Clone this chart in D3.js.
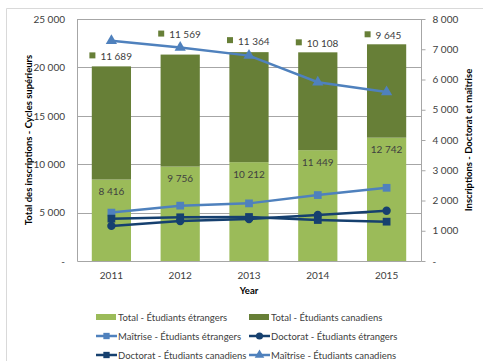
<!DOCTYPE html>
<html>
<head>
<meta charset="utf-8">
<script src="https://cdn.jsdelivr.net/npm/d3@7"></script>
<style>
  html, body { margin: 0; padding: 0; background: #fff; }
  svg text { font-family: Lato, "Liberation Sans", sans-serif; fill: #404040; }
</style>
</head>
<body>
<svg id="chart" width="483" height="361"></svg>
<script>
// Enrolment by year
const years = ["2011", "2012", "2013", "2014", "2015"];
const totalForeign = [8416, 9756, 10212, 11449, 12742];
const totalCanadian = [11689, 11569, 11364, 10108, 9645];
const masterForeign = [1600, 1830, 1905, 2180, 2420];
const phdForeign = [1160, 1320, 1390, 1520, 1660];
const phdCanadian = [1400, 1445, 1455, 1355, 1300];
const masterCanadian = [7280, 7060, 6790, 5910, 5590];
const leftTicks = [0, 5000, 10000, 15000, 20000, 25000];
const rightTicks = [0, 1000, 2000, 3000, 4000, 5000, 6000, 7000, 8000];

const svg = d3.select("#chart");
const m = { left: 77, right: 421, top: 19, bottom: 261 };

const lightGreen = "#9BBB59", darkGreen = "#677F37";
const blue = "#4F81BD", navy = "#16406F";

const fmt = v => v === 0 ? "-" : d3.format(",")(v).replace(/,/g, " ");

// outer frame
svg.append("path").attr("d", "M6.5,361 V8.5 H483")
  .attr("fill", "none").attr("stroke", "#D9D9D9");

const x = d3.scaleBand().domain(years).range([m.left, m.right]).paddingInner(0.43).paddingOuter(0.215);
const yL = d3.scaleLinear().domain([0, 25000]).range([m.bottom, m.top]);
const yR = d3.scaleLinear().domain([0, 8000]).range([m.bottom, m.top]);

// gridlines
svg.append("g").selectAll("line").data(leftTicks.slice(1)).join("line")
  .attr("x1", m.left).attr("x2", m.right)
  .attr("y1", d => Math.round(yL(d)) + 0.5).attr("y2", d => Math.round(yL(d)) + 0.5)
  .attr("stroke", "#A6A6A6").attr("stroke-width", 1);

// stacked bars
const stack = years.map((y, i) => ({ year: y, f: totalForeign[i], c: totalCanadian[i] }));
svg.append("g").selectAll("rect").data(stack).join("rect")
  .attr("x", d => x(d.year)).attr("width", x.bandwidth())
  .attr("y", d => yL(d.f)).attr("height", d => yL(0) - yL(d.f))
  .attr("fill", lightGreen);
svg.append("g").selectAll("rect").data(stack).join("rect")
  .attr("x", d => x(d.year)).attr("width", x.bandwidth())
  .attr("y", d => yL(d.f + d.c)).attr("height", d => yL(d.f) - yL(d.f + d.c))
  .attr("fill", darkGreen);

// plot frame
svg.append("path").attr("d", `M${m.left + 0.5},${m.top} V${m.bottom + 0.5} H${m.right + 0.5} V${m.top}`)
  .attr("fill", "none").attr("stroke", "#A6A6A6");
svg.append("line").attr("x1", m.left).attr("x2", m.right).attr("y1", m.top + 0.5).attr("y2", m.top + 0.5)
  .attr("stroke", "#A6A6A6");

// left axis
const gL = svg.append("g").attr("transform", `translate(${m.left},0)`)
  .call(d3.axisLeft(yL).tickValues(leftTicks).tickFormat(fmt).tickSize(0).tickPadding(12));
gL.select(".domain").remove();
gL.selectAll("text").style("font-size", "10px").attr("fill", "#404040");

// right axis
const gR = svg.append("g").attr("transform", `translate(${m.right + 0.5},0)`)
  .call(d3.axisRight(yR).tickValues(rightTicks).tickFormat(fmt).tickSize(4).tickPadding(7));
gR.select(".domain").remove();
gR.selectAll("line").attr("stroke", "#A6A6A6");
gR.selectAll("text").style("font-size", "10px").attr("fill", "#404040");

// x axis labels
svg.append("g").selectAll("text").data(years).join("text")
  .attr("x", d => x(d) + x.bandwidth() / 2).attr("y", 279)
  .attr("text-anchor", "middle").style("font-size", "10px").text(d => d);

// bar value labels
svg.append("g").selectAll("text").data(stack).join("text")
  .attr("x", d => x(d.year) + x.bandwidth() / 2).attr("y", d => yL(d.f) + 15.5)
  .attr("text-anchor", "middle").style("font-size", "10px").text(d => fmt(d.f));

const topNudge = [10, 20, 11, 9, 9];
const topLabels = svg.append("g").selectAll("g").data(stack).join("g")
  .attr("transform", (d, i) => `translate(${x(d.year) + x.bandwidth() / 2 - 3},${yL(d.f + d.c) - topNudge[i]})`);
topLabels.append("rect").attr("x", -19).attr("y", -4).attr("width", 6).attr("height", 6).attr("fill", darkGreen);
topLabels.append("text").attr("x", -8).attr("y", 3.5).style("font-size", "10px").text(d => fmt(d.c));

// line series
const series = [
  { name: "Maîtrise - Étudiants étrangers", values: masterForeign, color: blue, marker: "square" },
  { name: "Doctorat - Étudiants étrangers", values: phdForeign, color: navy, marker: "circle" },
  { name: "Doctorat - Étudiants canadiens", values: phdCanadian, color: navy, marker: "square" },
  { name: "Maîtrise - Étudiants canadiens", values: masterCanadian, color: blue, marker: "triangle" }
];
const symbolType = { square: d3.symbolSquare, circle: d3.symbolCircle, triangle: d3.symbolTriangle };
const cx = d => x(d) + x.bandwidth() / 2;
const line = d3.line().x(d => cx(d.year)).y(d => yR(d.v));

series.forEach(s => {
  const pts = years.map((y, i) => ({ year: y, v: s.values[i] }));
  svg.append("path").datum(pts).attr("d", line)
    .attr("fill", "none").attr("stroke", s.color).attr("stroke-width", 2.5);
  svg.append("g").selectAll("path").data(pts).join("path")
    .attr("transform", d => `translate(${cx(d.year)},${yR(d.v)})`)
    .attr("d", d3.symbol().type(symbolType[s.marker]).size(s.marker === "square" ? 60 : 55)())
    .attr("fill", s.color);
});

// axis titles
svg.append("text").attr("transform", `translate(32,140) rotate(-90)`)
  .attr("text-anchor", "middle").style("font-size", "9.5px").style("font-weight", "bold")
  .style("fill", "#000").text("Total des inscriptions - Cycles supérieurs");
svg.append("text").attr("transform", `translate(472,140) rotate(-90)`)
  .attr("text-anchor", "middle").style("font-size", "9.5px").style("font-weight", "bold")
  .style("fill", "#000").text("Inscriptions - Doctorat et maîtrise");
svg.append("text").attr("x", 249).attr("y", 294).attr("text-anchor", "middle")
  .style("font-size", "9.5px").style("font-weight", "bold").style("fill", "#000").text("Year");

// legend
const legendItems = [
  { name: "Total - Étudiants étrangers", kind: "bar", color: lightGreen },
  { name: "Total - Étudiants canadiens", kind: "bar", color: darkGreen },
  ...series.map(s => ({ name: s.name, kind: "line", color: s.color, marker: s.marker }))
];
const colX = [96, 249], rowY = [317, 336, 355];
const lg = svg.append("g").selectAll("g").data(legendItems).join("g")
  .attr("transform", (d, i) => `translate(${colX[i % 2]},${rowY[Math.floor(i / 2)]})`);
lg.each(function (d) {
  const g = d3.select(this);
  if (d.kind === "bar") {
    g.append("rect").attr("x", 0).attr("y", -3).attr("width", 20).attr("height", 6).attr("fill", d.color);
  } else {
    g.append("line").attr("x1", 0).attr("x2", 21).attr("y1", 0).attr("y2", 0)
      .attr("stroke", d.color).attr("stroke-width", 2.5);
    g.append("path").attr("transform", "translate(10.5,0)")
      .attr("d", d3.symbol().type(symbolType[d.marker]).size(40)())
      .attr("fill", d.color);
  }
  g.append("text").attr("x", 22).attr("y", 3.5).style("font-size", "9.5px").text(d.name);
});
</script>
</body>
</html>
